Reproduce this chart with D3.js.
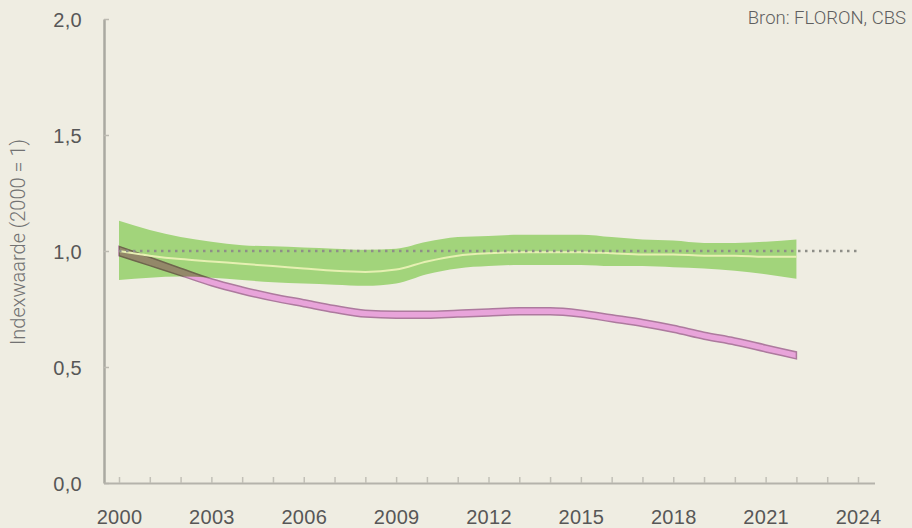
<!DOCTYPE html>
<html><head><meta charset="utf-8">
<script src="https://cdn.jsdelivr.net/npm/d3@7"></script>
<style>
html,body{margin:0;padding:0;background:#efede2;}
svg{display:block;font-family:Roboto,"Open Sans",sans-serif;}
</style></head>
<body><svg id="c" width="912" height="528"></svg>
<script>
const years = d3.range(2000, 2023);
const greenMean  = [1.00,0.98,0.965,0.955,0.945,0.935,0.925,0.915,0.91,0.92,0.955,0.98,0.99,0.995,0.995,0.995,0.99,0.985,0.985,0.98,0.98,0.975,0.975];
const greenUpper = [1.13,1.09,1.06,1.04,1.025,1.02,1.015,1.01,1.005,1.01,1.04,1.06,1.065,1.07,1.07,1.07,1.06,1.05,1.045,1.035,1.035,1.04,1.05];
const greenLower = [0.875,0.885,0.89,0.885,0.875,0.865,0.86,0.855,0.85,0.86,0.90,0.925,0.935,0.94,0.94,0.94,0.935,0.935,0.93,0.925,0.915,0.90,0.88];
const pinkMean   = [1.00,0.955,0.91,0.865,0.83,0.80,0.775,0.75,0.73,0.725,0.725,0.73,0.735,0.74,0.74,0.73,0.71,0.69,0.665,0.635,0.61,0.58,0.55];
const pinkHalf   = [0.02,0.018,0.016,0.015,0.015,0.015,0.015,0.015,0.015,0.015,0.015,0.015,0.015,0.015,0.015,0.015,0.015,0.015,0.015,0.015,0.015,0.015,0.015];
const refYears = [2000, 2024];
const refValue = 1;
const xTickYears = d3.range(2000, 2025);
const xTickLabels = ["2000","2003","2006","2009","2012","2015","2018","2021","2024"];
const yTickValues = [0, 0.5, 1, 1.5, 2];
const yTickLabels = ["0,0","0,5","1,0","1,5","2,0"];
const yTitle = "Indexwaarde (2000 = 1)";
const source = "Bron: FLORON, CBS";

const svg = d3.select("#c");
const x = d3.scaleLinear().domain([2000, 2024]).range([119, 858]);
const y = d3.scaleLinear().domain([0, 2]).range([483, 19]);

// axes
const yAxis = d3.axisLeft(y).tickValues(yTickValues)
  .tickFormat((d,i)=>yTickLabels[i]).tickSizeInner(-5).tickSizeOuter(0).tickPadding(22);
const gy = svg.append("g").attr("transform","translate(104,0)").call(yAxis);
gy.select(".domain").attr("stroke","#aaa9a1").attr("stroke-width",2.5);
gy.selectAll(".tick line").attr("stroke","#bcbab1").attr("stroke-width",1.5);
gy.selectAll("text").attr("fill","#575757").style("font-size","20px").style("letter-spacing","0.3px").attr("dy","0.36em");

const xAxis = d3.axisBottom(x).tickValues(xTickYears)
  .tickFormat(d => xTickLabels.includes(String(d)) ? String(d) : "")
  .tickSizeInner(-6).tickSizeOuter(0).tickPadding(27);
const gx = svg.append("g").attr("transform","translate(0,483)").call(xAxis);
gx.select(".domain").attr("d","M104,0.5H875").attr("stroke","#b5b3ab").attr("stroke-width",2);
gx.selectAll(".tick line").attr("stroke","#c2c0b7").attr("stroke-width",1.5);
gx.selectAll("text").attr("fill","#575757").style("font-size","20px").style("letter-spacing","0.3px");

// y title
svg.append("text").attr("transform","translate(20,242) rotate(-90)")
  .attr("text-anchor","middle").attr("dominant-baseline","middle")
  .attr("fill","#727272").style("font-size","20px").style("font-weight",300).text(yTitle);

// source
svg.append("text").attr("x",906).attr("y",24).attr("text-anchor","end")
  .attr("fill","#5f5f5f").style("font-size","18.5px").style("font-weight",300).text(source);

const data = years.map((yr,i)=>({yr, gm:greenMean[i], gu:greenUpper[i], gl:greenLower[i], pm:pinkMean[i], ph:pinkHalf[i]}));
const curve = d3.curveMonotoneX;

const plot = svg.append("g").style("isolation","isolate");
// pink band
plot.append("path").datum(data)
  .attr("d", d3.area().curve(curve).x(d=>x(d.yr)).y0(d=>y(d.pm-d.ph)).y1(d=>y(d.pm+d.ph)))
  .attr("fill","#e8a4da").attr("stroke","#ad7a9e").attr("stroke-width",1.5);
// green band
plot.append("path").datum(data)
  .attr("d", d3.area().curve(curve).x(d=>x(d.yr)).y0(d=>y(d.gl)).y1(d=>y(d.gu)))
  .attr("fill","#a2d47b").style("mix-blend-mode","multiply");
// green mean
plot.append("path").datum(data)
  .attr("d", d3.line().curve(curve).x(d=>x(d.yr)).y(d=>y(d.gm)))
  .attr("fill","none").attr("stroke","#e6f0b2").attr("stroke-width",2);
// reference dotted
svg.append("line").attr("x1",x(refYears[0])).attr("x2",x(refYears[1]))
  .attr("y1",y(refValue)).attr("y2",y(refValue))
  .attr("stroke","#8e8e88").attr("stroke-width",2.5).attr("stroke-dasharray","2.5,4.5");
</script></body></html>
